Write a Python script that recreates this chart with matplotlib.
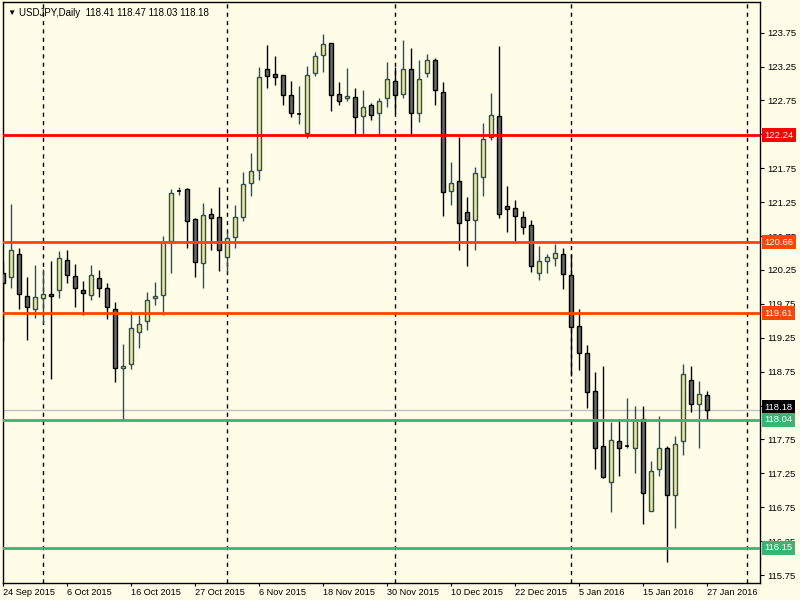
import matplotlib.pyplot as plt
import numpy as np
from matplotlib.transforms import blended_transform_factory, offset_copy

plt.rcParams['font.family'] = ['Liberation Sans', 'DejaVu Sans']

# daily OHLC candles, one per bar (bar index = position)
opens = [120.20, 120.14, 120.48, 119.87, 119.68, 119.83, 119.89, 119.95, 120.39, 120.16,
         119.95, 119.88, 120.13, 119.98, 119.67, 118.80, 118.87, 119.33, 119.49, 119.83,
         119.88, 120.67, 121.42, 121.45, 121.00, 120.35, 121.07, 121.03, 120.44, 120.73,
         121.03, 121.53, 121.72, 123.22, 123.14, 123.12, 122.83, 122.55, 122.27, 123.15,
         123.42, 123.59, 122.84, 122.78, 122.80, 122.52, 122.68, 122.57, 122.78, 123.03,
         122.84, 123.22, 122.56, 123.16, 123.34, 122.88, 121.42, 121.56, 121.10, 120.98,
         121.62, 122.21, 122.52, 121.19, 121.17, 121.03, 120.91, 120.20, 120.38, 120.42,
         120.48, 120.17, 119.43, 119.03, 118.46, 117.65, 117.12, 117.72, 117.66, 117.63,
         118.05, 116.70, 117.32, 117.63, 116.93, 117.72, 118.62, 118.28, 118.41]
highs = [120.37, 121.22, 120.57, 120.15, 120.32, 120.27, 120.38, 120.53, 120.54, 120.34,
         120.09, 120.32, 120.25, 120.06, 119.77, 119.16, 119.64, 119.58, 119.93, 120.07,
         120.75, 121.45, 121.47, 121.46, 121.02, 121.23, 121.16, 121.47, 120.81, 121.21,
         121.69, 121.97, 123.24, 123.56, 123.41, 123.13, 123.04, 122.96, 123.26, 123.47,
         123.73, 123.60, 123.02, 123.23, 122.93, 122.90, 122.71, 122.79, 123.32, 123.24,
         123.64, 123.53, 123.34, 123.44, 123.37, 123.02, 121.84, 122.21, 121.33, 121.77,
         122.41, 122.86, 123.55, 121.49, 121.28, 121.12, 120.98, 120.60, 120.48, 120.63,
         120.57, 120.48, 119.68, 119.15, 118.74, 118.84, 118.00, 118.05, 118.36, 118.25,
         118.25, 117.43, 118.09, 117.66, 117.80, 118.86, 118.84, 118.61, 118.47]
lows = [119.19, 119.99, 119.67, 119.21, 119.54, 119.47, 118.64, 119.83, 120.06, 119.71,
        119.59, 119.80, 119.85, 119.52, 118.59, 118.03, 118.79, 119.10, 119.37, 119.73,
        119.58, 120.20, 121.36, 120.58, 120.14, 119.99, 120.55, 120.24, 120.22, 120.57,
        120.97, 121.34, 121.58, 122.94, 122.98, 122.68, 122.51, 122.40, 122.19, 123.11,
        123.17, 122.60, 122.68, 122.74, 122.25, 122.22, 122.46, 122.26, 122.65, 122.57,
        122.78, 122.26, 122.43, 123.10, 122.68, 121.05, 121.21, 120.55, 120.31, 120.55,
        121.34, 122.16, 121.02, 120.81, 120.68, 120.78, 120.22, 120.10, 120.21, 120.31,
        119.97, 118.68, 118.78, 118.22, 117.31, 117.18, 116.68, 117.21, 117.62, 117.26,
        116.50, 116.70, 117.21, 115.95, 116.45, 117.52, 118.15, 117.63, 118.03]
closes = [120.05, 120.54, 119.89, 119.70, 119.85, 119.89, 119.86, 120.42, 120.17, 119.98,
          119.91, 120.17, 119.99, 119.70, 118.81, 118.84, 119.39, 119.46, 119.80, 119.86,
          120.66, 121.39, 121.42, 120.97, 120.36, 121.06, 121.01, 120.55, 120.72, 121.03,
          121.51, 121.71, 123.09, 123.11, 123.09, 122.83, 122.57, 122.55, 123.12, 123.40,
          123.58, 122.83, 122.74, 122.81, 122.50, 122.66, 122.53, 122.74, 123.06, 122.83,
          123.21, 122.57, 123.06, 123.34, 122.90, 121.40, 121.53, 120.94, 120.99, 121.68,
          122.18, 122.53, 121.07, 121.15, 121.04, 120.89, 120.31, 120.38, 120.44, 120.50,
          120.19, 119.41, 119.02, 118.45, 117.63, 117.19, 117.74, 117.63, 117.66, 118.03,
          116.96, 117.29, 117.62, 116.93, 117.69, 118.71, 118.28, 118.42, 118.18]

date_labels = ['24 Sep 2015', '6 Oct 2015', '16 Oct 2015', '27 Oct 2015', '6 Nov 2015',
               '18 Nov 2015', '30 Nov 2015', '10 Dec 2015', '22 Dec 2015', '5 Jan 2016',
               '15 Jan 2016', '27 Jan 2016']
date_label_bars = [0, 8, 16, 24, 32, 40, 48, 56, 64, 72, 80, 88]
month_sep_bars = [5, 28, 49, 71, 93]

# horizontal levels: (price, color)
levels = [(122.24, '#FF0000'), (120.66, '#FF4500'), (119.61, '#FF4500'),
          (118.04, '#3CB371'), (116.15, '#3CB371')]
last_price = 118.18
price_ticks = [123.75, 123.25, 122.75, 122.25, 121.75, 121.25, 120.75, 120.25,
               119.75, 119.25, 118.75, 118.25, 117.75, 117.25, 116.75, 116.25, 115.75]

bg = '#FFFCE8'
bull_fill, bull_edge = '#F0E68C', '#2F4F4F'
bear_fill, bear_edge = '#666666', '#000000'

fig = plt.figure(figsize=(8, 6), dpi=100, facecolor=bg)
ax = fig.add_axes([0.0035, 0.028, 0.9465, 0.9685])
ax.set_facecolor(bg)

o = np.array(opens)
h = np.array(highs)
l = np.array(lows)
c = np.array(closes)
x = np.arange(len(o))
up = c >= o

# month separators
for b in month_sep_bars:
    ax.axvline(b, color='black', lw=1, ls=(0, (3, 3)), zorder=1)

ax.axhline(last_price, color='#C0C0C0', lw=1, zorder=1)

# wicks
ax.vlines(x[up], l[up], h[up], color=bull_edge, lw=1, zorder=2)
ax.vlines(x[~up], l[~up], h[~up], color=bear_edge, lw=1, zorder=2)

# bodies
w = 0.55
doji = np.abs(c - o) < 0.005
bu = up & ~doji
bd = ~up & ~doji
ax.bar(x[bu], c[bu] - o[bu], bottom=o[bu], width=w, color=bull_fill,
       edgecolor=bull_edge, lw=1, zorder=3)
ax.bar(x[bd], o[bd] - c[bd], bottom=c[bd], width=w, color=bear_fill,
       edgecolor=bear_edge, lw=1, zorder=3)
ax.hlines(o[doji], x[doji] - w / 2, x[doji] + w / 2, color='black', lw=1.2, zorder=3)

# support / resistance lines
for p, col in levels:
    ax.axhline(p, color=col, lw=2, zorder=4)

ax.set_xlim(-0.05, 94.6)
ax.set_ylim(115.63, 124.20)

# price axis on the right
ax.yaxis.tick_right()
ax.set_yticks(price_ticks)
ax.set_yticklabels(['%.2f' % t for t in price_ticks])
ax.tick_params(axis='y', direction='out', length=3, pad=2, labelsize=6.8, colors='black')

ax.set_xticks(date_label_bars)
ax.set_xticklabels(date_labels)
ax.tick_params(axis='x', direction='out', length=2, pad=1.5, labelsize=6.6)
for lab in ax.get_xticklabels():
    lab.set_horizontalalignment('left')

for s in ax.spines.values():
    s.set_color('black')
    s.set_linewidth(1)

# price tags on the axis (last price first, level tags drawn over it)
trans = blended_transform_factory(ax.transAxes, ax.transData)
trans_up = offset_copy(trans, fig=fig, y=3, units='dots')
ax.text(1.006, last_price, '%.2f' % last_price, transform=trans_up, color='white',
        fontsize=6.8, va='center', ha='left', zorder=5, clip_on=False,
        bbox=dict(boxstyle='square,pad=0.25', fc='black', ec='none'))
for p, col in levels:
    ax.text(1.006, p, '%.2f' % p, transform=trans, color='white', fontsize=6.8,
            va='center', ha='left', zorder=6, clip_on=False,
            bbox=dict(boxstyle='square,pad=0.25', fc=col, ec='none'))

# chart header
ax.text(0.006, 0.987, '\u25BC', transform=ax.transAxes, fontsize=6, va='top', ha='left')
ax.text(0.021, 0.990, 'USDJPY,Daily  118.41 118.47 118.03 118.18', transform=ax.transAxes,
        fontsize=7, va='top', ha='left')

fig.savefig('out.png', dpi=100, facecolor=bg)
